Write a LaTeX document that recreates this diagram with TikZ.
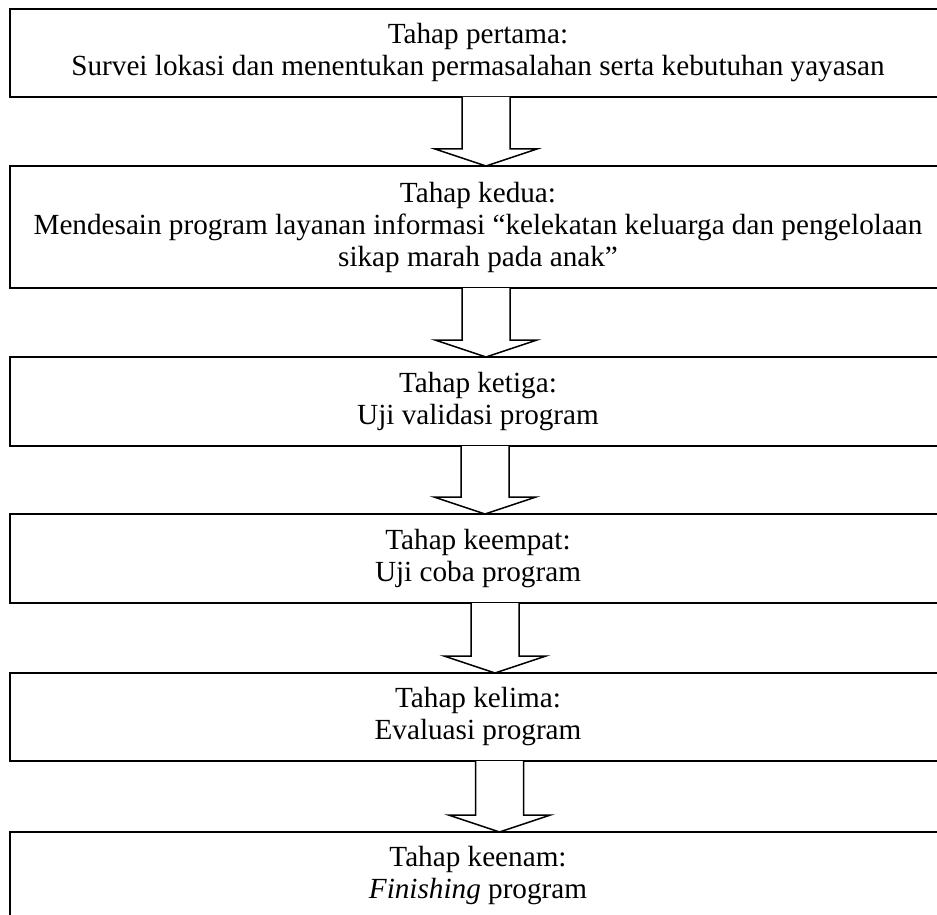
\documentclass[tikz,border=0pt]{standalone}
\usepackage{fontspec}
\setmainfont{Liberation Serif}
\usetikzlibrary{calc}
\tikzset{
  stepbox/.style={draw, line width=1pt, outer sep=0pt, inner sep=0pt,
    minimum width=468pt, align=center,
    font=\fontsize{14.6pt}{16pt}\selectfont},
  blockarr/.style={draw, fill=white, line width=0.75pt, line join=miter}
}
\newcommand{\blockarrow}[3]{%
  \draw[blockarr] ($(#1 |- #2.south)+(-24,0)$) -- ($(#1 |- #3.north)+(-24,-17)$)
    -- ($(#1 |- #3.north)+(-51,-17)$) -- (#1 |- #3.north)
    -- ($(#1 |- #3.north)+(51,-17)$) -- ($(#1 |- #3.north)+(24,-17)$)
    -- ($(#1 |- #2.south)+(24,0)$);}
\begin{document}
\begin{tikzpicture}[x=0.5pt, y=-0.5pt]
\useasboundingbox (0,0) rectangle (937,915);
\node[stepbox, minimum height=44pt] (b1) at (478,53)
  {Tahap pertama:\\Survei lokasi dan menentukan permasalahan serta kebutuhan yayasan};
\node[stepbox, minimum height=61pt] (b2) at (478,227)
  {Tahap kedua:\\Mendesain program layanan informasi “kelekatan keluarga dan pengelolaan\\sikap marah pada anak”};
\node[stepbox, minimum height=44.5pt] (b3) at (478,401.5)
  {Tahap ketiga:\\Uji validasi program};
\node[stepbox, minimum height=44.5pt] (b4) at (478,558.5)
  {Tahap keempat:\\Uji coba program};
\node[stepbox, minimum height=44pt] (b5) at (478,717)
  {Tahap kelima:\\Evaluasi program};
\node[stepbox, minimum height=44pt] (b6) at (478,876)
  {Tahap keenam:\\\textit{Finishing} program};
\coordinate (a1) at (486,0);
\coordinate (a2) at (486,0);
\coordinate (a3) at (485,0);
\coordinate (a4) at (495,0);
\coordinate (a5) at (499.5,0);
\blockarrow{a1}{b1}{b2}
\blockarrow{a2}{b2}{b3}
\blockarrow{a3}{b3}{b4}
\blockarrow{a4}{b4}{b5}
\blockarrow{a5}{b5}{b6}
\end{tikzpicture}
\end{document}
